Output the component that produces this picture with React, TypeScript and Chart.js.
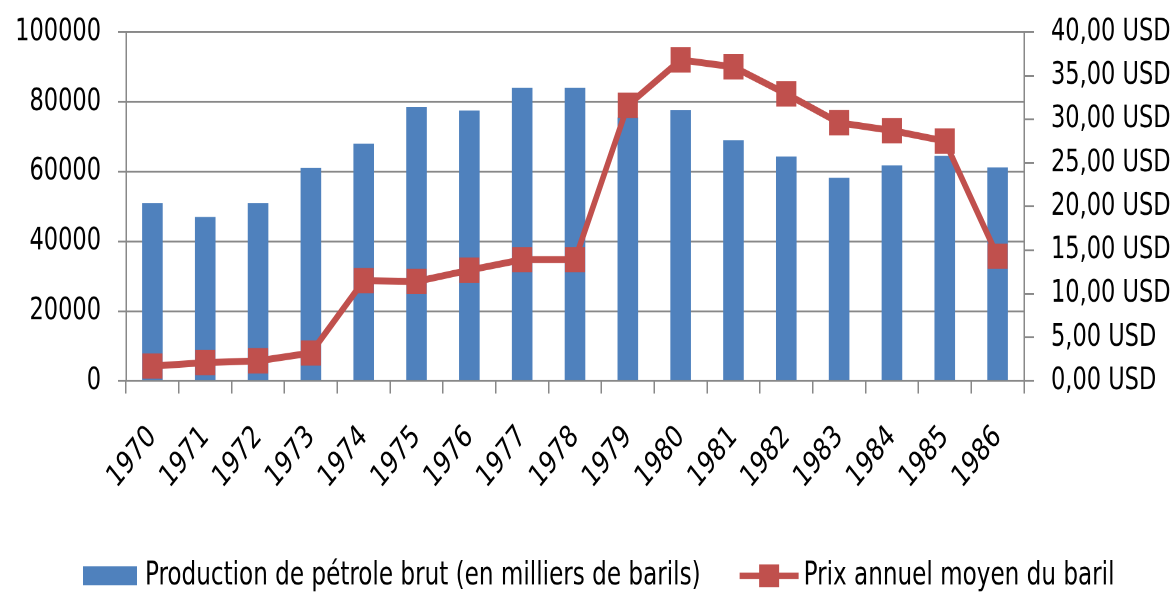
import React, { useEffect, useRef } from "react";
import { Chart, registerables } from "chart.js";

Chart.register(...registerables);

const years = ["1970","1971","1972","1973","1974","1975","1976","1977","1978","1979","1980","1981","1982","1983","1984","1985","1986"];
const production = [51000,47000,51000,61000,68000,78500,77500,84000,84000,75500,77600,69000,64300,58200,61800,64500,61200];
const prices = [1.7,2.1,2.3,3.2,11.5,11.4,12.7,13.9,13.9,31.6,36.8,36.0,32.9,29.6,28.7,27.5,14.3];
const productionLabel = "Production de pétrole brut (en milliers de barils)";
const priceLabel = "Prix annuel moyen du baril";

const FONT = "'DejaVu Sans Condensed', 'DejaVu Sans', sans-serif";
const BLUE = "#4F81BD";
const RED = "#C0504D";
const GRID = "#888888";
const W = 1176;
const STRETCH = 1.26;
const H = Math.round(592 / STRETCH);

const legendPlugin = {
  id: "customLegend",
  afterDraw(chart: any) {
    const ctx = chart.ctx as CanvasRenderingContext2D;
    ctx.save();
    ctx.font = `25.7px ${FONT}`;
    ctx.textBaseline = "middle";
    ctx.fillStyle = "#000";
    const t1 = ctx.measureText(productionLabel).width;
    const boxW = 54, gap1 = 8, between = 39, iconW = 59, gap2 = 5;
    let x = 83;
    const y = 576 / STRETCH;
    ctx.fillStyle = BLUE;
    ctx.fillRect(x, y - 7.5, boxW, 15);
    x += boxW + gap1;
    ctx.fillStyle = "#000";
    ctx.fillText(productionLabel, x, y);
    x += t1 + between;
    ctx.strokeStyle = RED;
    ctx.lineWidth = 5;
    ctx.beginPath(); ctx.moveTo(x, y); ctx.lineTo(x + iconW, y); ctx.stroke();
    ctx.fillStyle = RED;
    ctx.fillRect(x + iconW / 2 - 10, y - 9, 20, 18);
    x += iconW + gap2;
    ctx.fillStyle = "#000";
    ctx.fillText(priceLabel, x, y);
    ctx.restore();
  },
};

export default function App() {
  const ref = useRef<HTMLCanvasElement>(null);
  useEffect(() => {
    document.body.style.margin = "0";
    const chart = new Chart(ref.current!, {
      type: "bar",
      data: {
        labels: years,
        datasets: [
          {
            type: "line",
            label: priceLabel,
            data: prices,
            yAxisID: "y1",
            borderColor: RED,
            backgroundColor: RED,
            borderWidth: 5.5,
            pointStyle: "rect",
            pointRadius: 14.2,
            pointBackgroundColor: RED,
            pointBorderColor: RED,
            pointBorderWidth: 0,
            order: 0,
          } as any,
          {
            type: "bar",
            label: productionLabel,
            data: production,
            yAxisID: "y",
            backgroundColor: BLUE,
            barPercentage: 0.39,
            categoryPercentage: 1,
            order: 1,
          },
        ],
      },
      plugins: [legendPlugin],
      options: {
        animation: false,
        responsive: false,
        devicePixelRatio: 2,
        layout: { padding: { top: 25.4, left: 0, right: 0, bottom: 0 } },
        plugins: {
          tooltip: { enabled: false },
          legend: { display: false },
        },
        scales: {
          x: {
            grid: { offset: true, drawOnChartArea: false, drawTicks: true, tickLength: 10, color: GRID, lineWidth: 1.5 },
            border: { color: GRID, width: 1.5 },
            ticks: {
              maxRotation: 45, minRotation: 45, color: "#000", padding: 20,
              font: { family: FONT, size: 25 },
            },
            afterFit: (s: any) => { s.height = H - 302.4; s.paddingLeft = 0; s.paddingRight = 0; },
          },
          y: {
            position: "left",
            min: 0, max: 100000,
            ticks: {
              stepSize: 20000, color: "#000", padding: 17, font: { family: FONT, size: 25 },
              callback: (v: any) => String(v),
            },
            grid: { color: GRID, lineWidth: 1.5, tickLength: 8 },
            border: { color: GRID, width: 1.5 },
            afterFit: (s: any) => { s.width = 126; s.paddingTop = 0; s.paddingBottom = 0; },
          },
          y1: {
            position: "right",
            min: 0, max: 40,
            ticks: {
              stepSize: 5, color: "#000", padding: 17, font: { family: FONT, size: 25 },
              callback: (v: any) => Number(v).toFixed(2).replace(".", ",") + " USD",
            },
            grid: { drawOnChartArea: false, color: GRID, tickLength: 10, lineWidth: 1.5 },
            border: { color: GRID, width: 1.5 },
            afterFit: (s: any) => { s.width = 152; s.paddingTop = 0; s.paddingBottom = 0; },
          },
        },
      },
    });
    return () => chart.destroy();
  }, []);
  return (
    <div style={{ position: "absolute", left: 0, top: 0, width: W, height: 592 }}>
      <canvas ref={ref} width={W} height={H} style={{ width: W + "px", height: "592px", display: "block" }} />
    </div>
  );
}
